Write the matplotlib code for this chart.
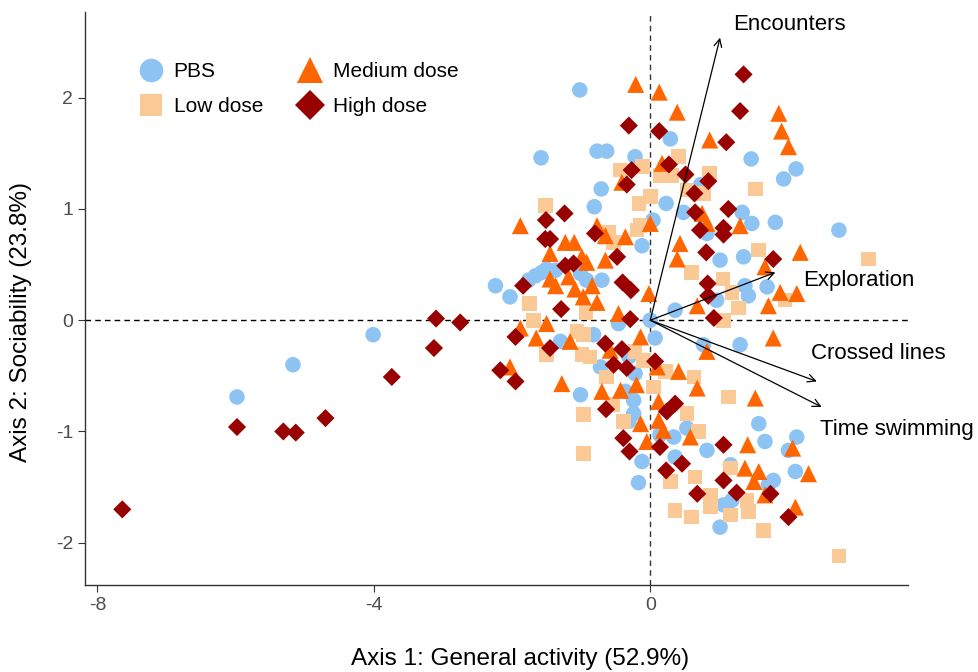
import matplotlib
matplotlib.use("Agg")
import matplotlib.pyplot as plt
from matplotlib.lines import Line2D

# ---------------- data ----------------
pbs_x = [-5.98, -5.17, -4.01,
         -1.02, 0.29, -0.77, -0.63, -1.58, -0.22, -0.71, -0.81, 0.23, 0.04,
         1.46, 2.11, 1.93, 0.73, 1.33, 1.47, 1.81, 2.73, 0.48, 0.79,
         -0.12, -1.76, -1.66, -1.57, -1.50, -1.37, -1.01, -0.92, -0.70, -2.24, -2.03,
         -0.46, 0.00, -0.82, 0.07, -1.30, -0.31, -0.72, -0.22,
         -1.01, -0.36, -0.24, -0.24, -0.31, 0.14, 0.34, -0.12, 0.36, -0.17,
         1.57, 0.53, 2.12, 1.66, 2.00, 0.82, 1.16, 2.10, 1.78, 1.71, 1.18, 1.06, 1.01,
         0.82, 1.01, 1.35, 1.37, 1.42, 1.69, 0.96, 0.36, 0.77, 1.30]
pbs_y = [-0.69, -0.40, -0.13,
         2.07, 1.63, 1.52, 1.52, 1.46, 1.47, 1.18, 1.02, 1.05, 0.90,
         1.45, 1.36, 1.27, 1.22, 0.97, 0.87, 0.88, 0.81, 0.97, 0.84,
         0.67, 0.36, 0.40, 0.43, 0.46, 0.45, 0.42, 0.36, 0.36, 0.31, 0.21,
         -0.03, 0.00, -0.13, -0.16, -0.19, -0.33, -0.42, -0.48,
         -0.67, -0.64, -0.72, -0.84, -0.91, -1.03, -1.05, -1.27, -1.23, -1.46,
         -0.93, -0.97, -1.05, -1.09, -1.17, -1.17, -1.30, -1.36, -1.44, -1.48, -1.62, -1.66, -1.86,
         0.78, 0.54, 0.57, 0.31, 0.22, 0.30, 0.18, 0.09, -0.22, -0.22]

low_x = [-0.43, -0.11, 0.14, 0.31, -1.52, -0.16, 0.00, -0.15,
         0.41, 0.86, 1.52, 0.77, 0.53,
         -0.60, -0.19, -0.53, -1.75, -0.93, -1.69, -1.06, -0.97, -1.50, -0.99, -0.87, -0.22, -0.10, -0.63, 0.22,
         0.05, -0.55, -0.97, -0.39, -0.97, 0.29, 0.36,
         1.13, 0.53, 0.70, 1.16, 0.65, 0.87, 0.87, 1.40, 1.42, 0.60, 1.16, 1.64, 2.73,
         1.57, 3.16, 0.60, 1.05, 1.18, 1.95, 1.28, 1.06, 0.63]
low_y = [1.35, 1.38, 1.30, 1.30, 1.03, 1.05, 1.11, 0.85,
         1.47, 1.32, 1.18, 1.14, 1.17,
         0.79, 0.81, 0.70, 0.15, 0.07, 0.00, -0.10, -0.13, -0.31, -0.31, -0.33, -0.28, -0.36, -0.51, -0.46,
         -0.60, -0.76, -0.85, -0.91, -1.20, -1.45, -1.71,
         -0.69, -0.84, -1.00, -1.33, -1.41, -1.57, -1.68, -1.62, -1.72, -1.77, -1.75, -1.89, -2.12,
         0.63, 0.55, 0.43, 0.37, 0.25, 0.18, 0.11, 0.00, -0.51]

med_x = [-0.21, 0.13, 0.39, 0.17, -0.41, -1.88, -0.77, 0.00,
         1.86, 1.90, 2.00, 0.86, 0.75, 1.30, 0.82,
         -1.23, -1.10, -0.65, -0.36, -1.45, -0.99, -0.92, -0.65, -1.45, -1.37, -1.18, -1.09, -0.97, -0.84, -0.77,
         -0.02, -0.46, -1.88, -1.50, -1.65, -0.14, -1.16, -0.58, -2.03, 0.10, -1.28,
         -0.70, -0.43, -0.20, 0.12, -0.14, 0.12, 0.19, -0.05,
         0.68, 1.52, 0.58, 1.41, 2.06, 1.37, 1.57, 2.29, 1.50, 1.66, 2.10,
         0.43, 0.39, 2.17, 1.66, 1.88, 2.12, 1.71, 0.68, 1.78, 0.82, 0.41]
med_y = [2.12, 2.05, 1.87, 1.41, 1.24, 0.85, 0.85, 0.87,
         1.86, 1.70, 1.56, 1.62, 0.96, 0.85, 0.87,
         0.70, 0.70, 0.76, 0.75, 0.60, 0.57, 0.52, 0.54, 0.37, 0.31, 0.39, 0.28, 0.21, 0.31, 0.16,
         0.24, 0.06, -0.07, -0.03, -0.16, -0.15, -0.19, -0.27, -0.42, -0.42, -0.57,
         -0.64, -0.63, -0.58, -0.73, -0.93, -0.90, -0.99, -1.09,
         -0.61, -0.70, -1.05, -1.12, -1.15, -1.33, -1.36, -1.38, -1.45, -1.57, -1.68,
         0.69, 0.55, 0.61, 0.48, 0.25, 0.24, 0.13, 0.13, -0.16, -0.28, -0.46]

high_x = [-7.64, -5.98, -5.31, -5.13, -4.70, -3.74, -3.10, -2.75, -3.13, -2.17,
          1.35, 1.30, -0.31, 0.13, 1.10, -0.27, 0.27, -0.34, 0.51, 0.84, 0.64, 1.13, 0.65, 1.06, -1.51, -1.24,
          -1.52, -1.45, -0.80, -0.48, -1.23, -1.11, -1.84, -0.40, -0.28, -1.29, -0.29, -1.95, -1.45, -0.65,
          -0.41, -0.53, -0.34, -1.95, 0.07,
          -0.64, 0.36, 0.24, -0.39, 0.14, -0.30, 0.23,
          1.06, 0.46, 1.06, 1.25, 0.68, 1.74, 2.00,
          0.72, 1.06, 0.81, 1.78, 0.83, 0.84, 0.92]
high_y = [-1.70, -0.96, -1.00, -1.01, -0.88, -0.51, 0.015, -0.02, -0.25, -0.45,
          2.21, 1.88, 1.75, 1.70, 1.60, 1.35, 1.40, 1.22, 1.31, 1.25, 1.14, 1.00, 0.97, 0.83, 0.90, 0.96,
          0.73, 0.73, 0.78, 0.57, 0.49, 0.51, 0.31, 0.34, 0.27, 0.10, 0.01, -0.15, -0.25, -0.21,
          -0.26, -0.40, -0.43, -0.55, -0.37,
          -0.80, -0.75, -0.82, -1.06, -1.14, -1.18, -1.35,
          -1.12, -1.29, -1.44, -1.55, -1.56, -1.56, -1.77,
          0.81, 0.77, 0.61, 0.55, 0.33, 0.22, 0.02]

# biplot loadings (arrow tips) and labels
var_names = ["Encounters", "Exploration", "Crossed lines", "Time swimming"]
var_x = [1.01, 1.81, 2.41, 2.48]
var_y = [2.54, 0.43, -0.55, -0.78]

group_names = ["PBS", "Low dose", "Medium dose", "High dose"]
x_ticks = [-8, -4, 0]
y_ticks = [-2, -1, 0, 1, 2]

# ---------------- plot ----------------
plt.rcParams['font.family'] = ['Liberation Sans', 'DejaVu Sans']

fig = plt.figure(figsize=(9.79, 6.72), dpi=100)
ax = fig.add_axes([0.0868, 0.1295, 0.8407, 0.8525])

colors = ["#8EC4F4", "#FBC995", "#FF6600", "#990000"]
markers = ["o", "s", "^", "D"]
sizes = [125, 110, 150, 85]
datas = [(pbs_x, pbs_y), (low_x, low_y), (med_x, med_y), (high_x, high_y)]

ax.axhline(0, color="black", lw=1.0, ls=(0, (4, 3)), zorder=1)
ax.axvline(0, color="#333333", lw=1.0, ls=(0, (4, 3)), zorder=1)

for (xs, ys), c, m, s in zip(datas, colors, markers, sizes):
    ax.scatter(xs, ys, c=c, marker=m, s=s, edgecolors="none", zorder=2)

label_pos = [(1.20, 2.66), (2.21, 0.36), (2.32, -0.30), (2.46, -0.98)]
for nm, vx, vy, (lx, ly) in zip(var_names, var_x, var_y, label_pos):
    ax.annotate("", xy=(vx, vy), xytext=(0, 0),
                arrowprops=dict(arrowstyle="->", color="black", lw=0.9,
                                mutation_scale=14, shrinkA=0, shrinkB=0), zorder=3)
    ax.text(lx, ly, nm, fontsize=16, ha="left", va="center", color="black",
            clip_on=False, zorder=4)

ax.set_xlim(-8.18, 3.73)
ax.set_ylim(-2.38, 2.77)
ax.set_xticks(x_ticks)
ax.set_yticks(y_ticks)
ax.set_xticklabels([str(t) for t in x_ticks])
ax.set_yticklabels([str(t) for t in y_ticks])
ax.tick_params(axis="both", labelsize=14, labelcolor="#4D4D4D", color="#333333",
               length=5, width=0.8, direction="out")
for sp in ["top", "right"]:
    ax.spines[sp].set_visible(False)
for sp in ["left", "bottom"]:
    ax.spines[sp].set_color("#333333")
    ax.spines[sp].set_linewidth(1.0)

ax.set_xlabel("Axis 1: General activity (52.9%)", fontsize=17.5)
ax.set_ylabel("Axis 2: Sociability (23.8%)", fontsize=17.5)
ax.xaxis.set_label_coords(0.529, -0.110)
ax.yaxis.set_label_coords(-0.064, 0.459)

handles = [Line2D([], [], ls="none", marker=m, color=c, markersize=ms, markeredgewidth=0)
           for m, c, ms in zip(markers, colors, [17, 16, 19, 15])]
leg = ax.legend(handles, group_names, loc="upper left", bbox_to_anchor=(0.038, 0.945),
                ncol=2, frameon=False, fontsize=15, handletextpad=0.35,
                columnspacing=1.5, labelspacing=0.75, handlelength=1.5)

fig.savefig("out.png", dpi=100)
